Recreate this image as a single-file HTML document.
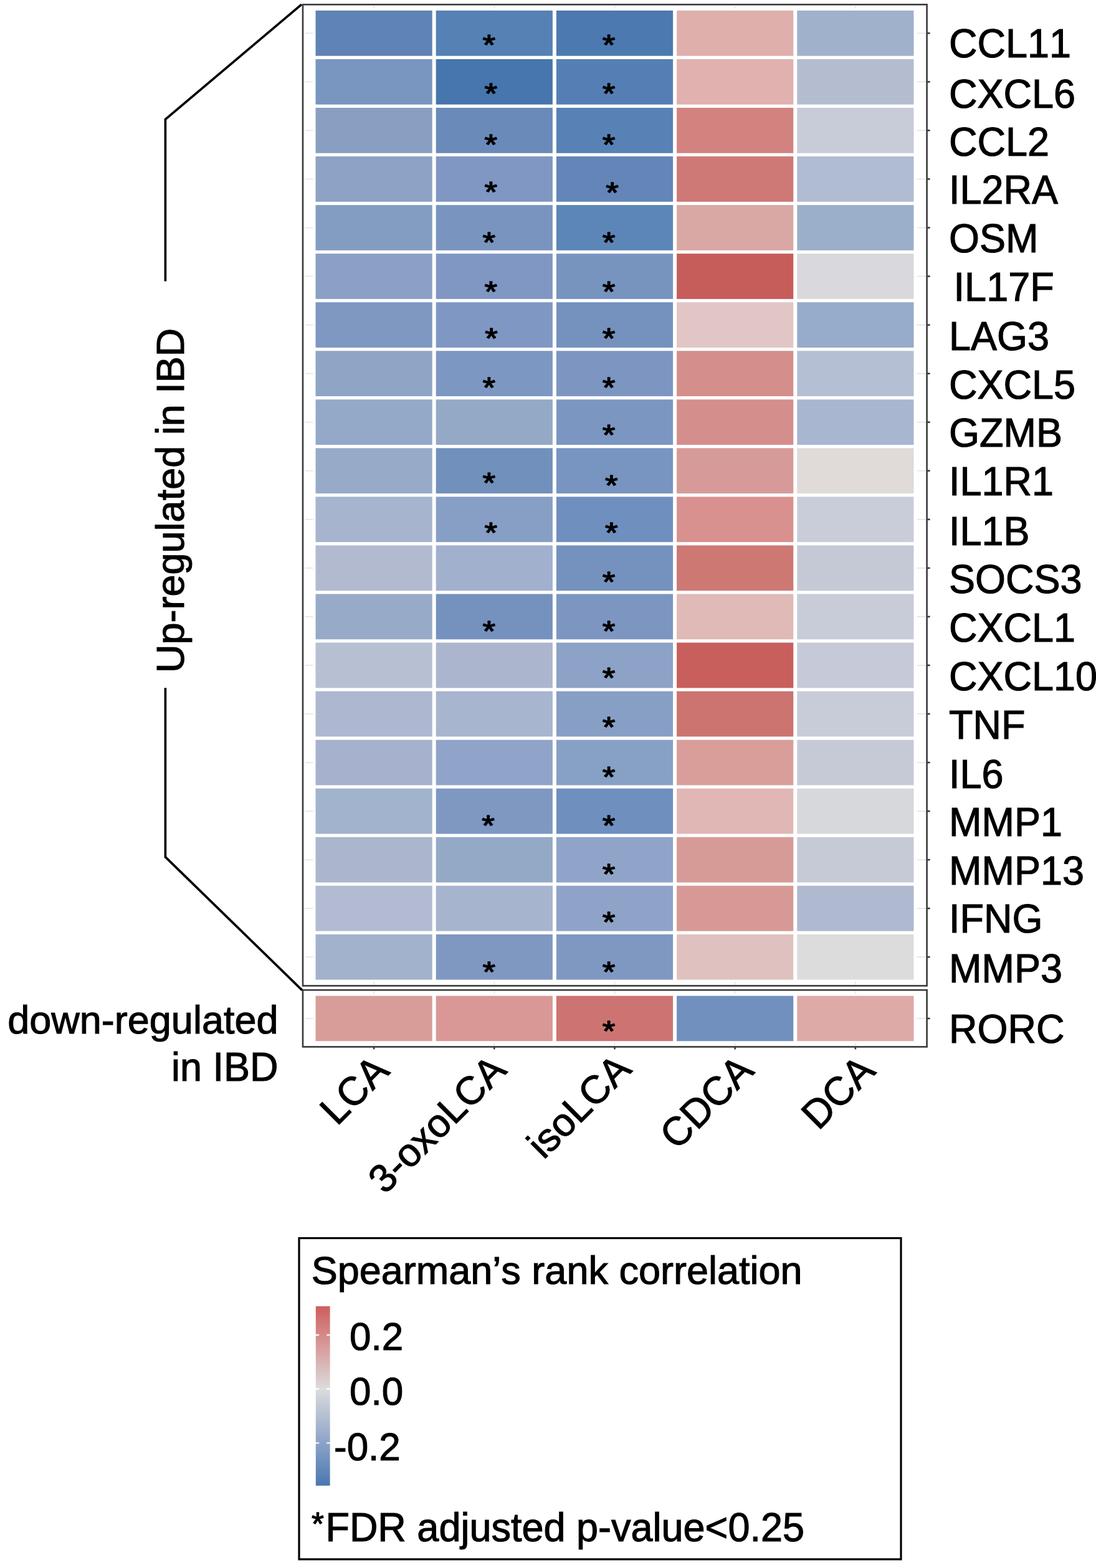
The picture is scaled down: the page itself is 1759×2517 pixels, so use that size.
<!DOCTYPE html>
<html><head><meta charset="utf-8"><title>Spearman heatmap</title>
<style>html,body{margin:0;padding:0;background:#fff;} svg{display:block;} text{font-family:'Liberation Sans', Arial, Helvetica, sans-serif;fill:#000;stroke:#000;stroke-width:1.1px;font-kerning:none;font-feature-settings:"kern" 0;}</style>
</head><body>
<svg width="1759" height="2517" viewBox="0 0 1759 2517">
<rect x="0" y="0" width="1759" height="2517" fill="#fff"/>
<g stroke="#e4e4e4" stroke-width="1.6"><line x1="489.5" y1="53.30" x2="502.5" y2="53.30"/><line x1="1471.5" y1="53.30" x2="1485.5" y2="53.30"/><line x1="489.5" y1="131.35" x2="502.5" y2="131.35"/><line x1="1471.5" y1="131.35" x2="1485.5" y2="131.35"/><line x1="489.5" y1="209.40" x2="502.5" y2="209.40"/><line x1="1471.5" y1="209.40" x2="1485.5" y2="209.40"/><line x1="489.5" y1="287.45" x2="502.5" y2="287.45"/><line x1="1471.5" y1="287.45" x2="1485.5" y2="287.45"/><line x1="489.5" y1="365.50" x2="502.5" y2="365.50"/><line x1="1471.5" y1="365.50" x2="1485.5" y2="365.50"/><line x1="489.5" y1="443.55" x2="502.5" y2="443.55"/><line x1="1471.5" y1="443.55" x2="1485.5" y2="443.55"/><line x1="489.5" y1="521.60" x2="502.5" y2="521.60"/><line x1="1471.5" y1="521.60" x2="1485.5" y2="521.60"/><line x1="489.5" y1="599.65" x2="502.5" y2="599.65"/><line x1="1471.5" y1="599.65" x2="1485.5" y2="599.65"/><line x1="489.5" y1="677.70" x2="502.5" y2="677.70"/><line x1="1471.5" y1="677.70" x2="1485.5" y2="677.70"/><line x1="489.5" y1="755.75" x2="502.5" y2="755.75"/><line x1="1471.5" y1="755.75" x2="1485.5" y2="755.75"/><line x1="489.5" y1="833.80" x2="502.5" y2="833.80"/><line x1="1471.5" y1="833.80" x2="1485.5" y2="833.80"/><line x1="489.5" y1="911.85" x2="502.5" y2="911.85"/><line x1="1471.5" y1="911.85" x2="1485.5" y2="911.85"/><line x1="489.5" y1="989.90" x2="502.5" y2="989.90"/><line x1="1471.5" y1="989.90" x2="1485.5" y2="989.90"/><line x1="489.5" y1="1067.95" x2="502.5" y2="1067.95"/><line x1="1471.5" y1="1067.95" x2="1485.5" y2="1067.95"/><line x1="489.5" y1="1146.00" x2="502.5" y2="1146.00"/><line x1="1471.5" y1="1146.00" x2="1485.5" y2="1146.00"/><line x1="489.5" y1="1224.05" x2="502.5" y2="1224.05"/><line x1="1471.5" y1="1224.05" x2="1485.5" y2="1224.05"/><line x1="489.5" y1="1302.10" x2="502.5" y2="1302.10"/><line x1="1471.5" y1="1302.10" x2="1485.5" y2="1302.10"/><line x1="489.5" y1="1380.15" x2="502.5" y2="1380.15"/><line x1="1471.5" y1="1380.15" x2="1485.5" y2="1380.15"/><line x1="489.5" y1="1458.20" x2="502.5" y2="1458.20"/><line x1="1471.5" y1="1458.20" x2="1485.5" y2="1458.20"/><line x1="489.5" y1="1536.25" x2="502.5" y2="1536.25"/><line x1="1471.5" y1="1536.25" x2="1485.5" y2="1536.25"/><line x1="600.10" y1="9.5" x2="600.10" y2="13.5"/><line x1="600.10" y1="1575.5" x2="600.10" y2="1580.5"/><line x1="600.10" y1="1591.5" x2="600.10" y2="1595.5"/><line x1="600.10" y1="1674.5" x2="600.10" y2="1678.5"/><line x1="793.30" y1="9.5" x2="793.30" y2="13.5"/><line x1="793.30" y1="1575.5" x2="793.30" y2="1580.5"/><line x1="793.30" y1="1591.5" x2="793.30" y2="1595.5"/><line x1="793.30" y1="1674.5" x2="793.30" y2="1678.5"/><line x1="986.50" y1="9.5" x2="986.50" y2="13.5"/><line x1="986.50" y1="1575.5" x2="986.50" y2="1580.5"/><line x1="986.50" y1="1591.5" x2="986.50" y2="1595.5"/><line x1="986.50" y1="1674.5" x2="986.50" y2="1678.5"/><line x1="1179.70" y1="9.5" x2="1179.70" y2="13.5"/><line x1="1179.70" y1="1575.5" x2="1179.70" y2="1580.5"/><line x1="1179.70" y1="1591.5" x2="1179.70" y2="1595.5"/><line x1="1179.70" y1="1674.5" x2="1179.70" y2="1678.5"/><line x1="1372.90" y1="9.5" x2="1372.90" y2="13.5"/><line x1="1372.90" y1="1575.5" x2="1372.90" y2="1580.5"/><line x1="1372.90" y1="1591.5" x2="1372.90" y2="1595.5"/><line x1="1372.90" y1="1674.5" x2="1372.90" y2="1678.5"/><line x1="489.5" y1="1634.90" x2="502.5" y2="1634.90"/><line x1="1471.5" y1="1634.90" x2="1485.5" y2="1634.90"/></g>
<rect x="503.50" y="13.90" width="966.00" height="1561.75" fill="#fff"/>
<rect x="503.50" y="1595.60" width="966.00" height="78.60" fill="#fff"/>
<g><rect x="506.50" y="16.90" width="187.2" height="72.8" fill="#6083B5"/><rect x="699.70" y="16.90" width="187.2" height="72.8" fill="#5581B5"/><rect x="892.90" y="16.90" width="187.2" height="72.8" fill="#4C79AF"/><rect x="1086.10" y="16.90" width="187.2" height="72.8" fill="#DFAFAC"/><rect x="1279.30" y="16.90" width="187.2" height="72.8" fill="#A0B1CC"/><rect x="506.50" y="94.95" width="187.2" height="72.8" fill="#7896BF"/><rect x="699.70" y="94.95" width="187.2" height="72.8" fill="#4775AD"/><rect x="892.90" y="94.95" width="187.2" height="72.8" fill="#557FB4"/><rect x="1086.10" y="94.95" width="187.2" height="72.8" fill="#E0B1AE"/><rect x="1279.30" y="94.95" width="187.2" height="72.8" fill="#B4BDD0"/><rect x="506.50" y="173.00" width="187.2" height="72.8" fill="#899FC2"/><rect x="699.70" y="173.00" width="187.2" height="72.8" fill="#6A8ABA"/><rect x="892.90" y="173.00" width="187.2" height="72.8" fill="#5882B6"/><rect x="1086.10" y="173.00" width="187.2" height="72.8" fill="#D3837F"/><rect x="1279.30" y="173.00" width="187.2" height="72.8" fill="#C8CBD8"/><rect x="506.50" y="251.05" width="187.2" height="72.8" fill="#8DA2C5"/><rect x="699.70" y="251.05" width="187.2" height="72.8" fill="#7F97C2"/><rect x="892.90" y="251.05" width="187.2" height="72.8" fill="#6485B8"/><rect x="1086.10" y="251.05" width="187.2" height="72.8" fill="#CE7975"/><rect x="1279.30" y="251.05" width="187.2" height="72.8" fill="#B0BCD2"/><rect x="506.50" y="329.10" width="187.2" height="72.8" fill="#839DC2"/><rect x="699.70" y="329.10" width="187.2" height="72.8" fill="#7995BF"/><rect x="892.90" y="329.10" width="187.2" height="72.8" fill="#5D86B8"/><rect x="1086.10" y="329.10" width="187.2" height="72.8" fill="#D9A8A4"/><rect x="1279.30" y="329.10" width="187.2" height="72.8" fill="#9CAFCA"/><rect x="506.50" y="407.15" width="187.2" height="72.8" fill="#8AA0C4"/><rect x="699.70" y="407.15" width="187.2" height="72.8" fill="#7F97C2"/><rect x="892.90" y="407.15" width="187.2" height="72.8" fill="#7794BF"/><rect x="1086.10" y="407.15" width="187.2" height="72.8" fill="#C65D5B"/><rect x="1279.30" y="407.15" width="187.2" height="72.8" fill="#D9D9DD"/><rect x="506.50" y="485.20" width="187.2" height="72.8" fill="#7E98C2"/><rect x="699.70" y="485.20" width="187.2" height="72.8" fill="#7F98C3"/><rect x="892.90" y="485.20" width="187.2" height="72.8" fill="#7592BF"/><rect x="1086.10" y="485.20" width="187.2" height="72.8" fill="#E2C5C5"/><rect x="1279.30" y="485.20" width="187.2" height="72.8" fill="#97ABCA"/><rect x="506.50" y="563.25" width="187.2" height="72.8" fill="#8EA5C6"/><rect x="699.70" y="563.25" width="187.2" height="72.8" fill="#7D97C3"/><rect x="892.90" y="563.25" width="187.2" height="72.8" fill="#7C96C1"/><rect x="1086.10" y="563.25" width="187.2" height="72.8" fill="#D48F8B"/><rect x="1279.30" y="563.25" width="187.2" height="72.8" fill="#B5BFD3"/><rect x="506.50" y="641.30" width="187.2" height="72.8" fill="#93A9C7"/><rect x="699.70" y="641.30" width="187.2" height="72.8" fill="#94A9C6"/><rect x="892.90" y="641.30" width="187.2" height="72.8" fill="#7B96C1"/><rect x="1086.10" y="641.30" width="187.2" height="72.8" fill="#D48E8C"/><rect x="1279.30" y="641.30" width="187.2" height="72.8" fill="#A8B6D0"/><rect x="506.50" y="719.35" width="187.2" height="72.8" fill="#97ABC8"/><rect x="699.70" y="719.35" width="187.2" height="72.8" fill="#7290BC"/><rect x="892.90" y="719.35" width="187.2" height="72.8" fill="#7894C0"/><rect x="1086.10" y="719.35" width="187.2" height="72.8" fill="#D69B98"/><rect x="1279.30" y="719.35" width="187.2" height="72.8" fill="#E0DAD9"/><rect x="506.50" y="797.40" width="187.2" height="72.8" fill="#A7B4CE"/><rect x="699.70" y="797.40" width="187.2" height="72.8" fill="#879FC5"/><rect x="892.90" y="797.40" width="187.2" height="72.8" fill="#6F8FBE"/><rect x="1086.10" y="797.40" width="187.2" height="72.8" fill="#D8918E"/><rect x="1279.30" y="797.40" width="187.2" height="72.8" fill="#C9CDD9"/><rect x="506.50" y="875.45" width="187.2" height="72.8" fill="#B2BAD0"/><rect x="699.70" y="875.45" width="187.2" height="72.8" fill="#A1B0CC"/><rect x="892.90" y="875.45" width="187.2" height="72.8" fill="#7592BF"/><rect x="1086.10" y="875.45" width="187.2" height="72.8" fill="#CE7874"/><rect x="1279.30" y="875.45" width="187.2" height="72.8" fill="#C4C9D5"/><rect x="506.50" y="953.50" width="187.2" height="72.8" fill="#97ABC9"/><rect x="699.70" y="953.50" width="187.2" height="72.8" fill="#7592BE"/><rect x="892.90" y="953.50" width="187.2" height="72.8" fill="#7C96C1"/><rect x="1086.10" y="953.50" width="187.2" height="72.8" fill="#DFBAB7"/><rect x="1279.30" y="953.50" width="187.2" height="72.8" fill="#C8CCD8"/><rect x="506.50" y="1031.55" width="187.2" height="72.8" fill="#B7BFD3"/><rect x="699.70" y="1031.55" width="187.2" height="72.8" fill="#ABB5CE"/><rect x="892.90" y="1031.55" width="187.2" height="72.8" fill="#8CA2C6"/><rect x="1086.10" y="1031.55" width="187.2" height="72.8" fill="#C85F5D"/><rect x="1279.30" y="1031.55" width="187.2" height="72.8" fill="#C6CAD8"/><rect x="506.50" y="1109.60" width="187.2" height="72.8" fill="#AEB7D0"/><rect x="699.70" y="1109.60" width="187.2" height="72.8" fill="#A7B5CF"/><rect x="892.90" y="1109.60" width="187.2" height="72.8" fill="#889FC5"/><rect x="1086.10" y="1109.60" width="187.2" height="72.8" fill="#CC7470"/><rect x="1279.30" y="1109.60" width="187.2" height="72.8" fill="#C8CCD8"/><rect x="506.50" y="1187.65" width="187.2" height="72.8" fill="#A6B2CD"/><rect x="699.70" y="1187.65" width="187.2" height="72.8" fill="#8FA4C8"/><rect x="892.90" y="1187.65" width="187.2" height="72.8" fill="#87A0C5"/><rect x="1086.10" y="1187.65" width="187.2" height="72.8" fill="#D99E9A"/><rect x="1279.30" y="1187.65" width="187.2" height="72.8" fill="#C6CAD7"/><rect x="506.50" y="1265.70" width="187.2" height="72.8" fill="#A2B3CE"/><rect x="699.70" y="1265.70" width="187.2" height="72.8" fill="#7E98C2"/><rect x="892.90" y="1265.70" width="187.2" height="72.8" fill="#6F8FBE"/><rect x="1086.10" y="1265.70" width="187.2" height="72.8" fill="#E1B7B5"/><rect x="1279.30" y="1265.70" width="187.2" height="72.8" fill="#D7D8DC"/><rect x="506.50" y="1343.75" width="187.2" height="72.8" fill="#ABB6CE"/><rect x="699.70" y="1343.75" width="187.2" height="72.8" fill="#93A9C6"/><rect x="892.90" y="1343.75" width="187.2" height="72.8" fill="#8FA4C8"/><rect x="1086.10" y="1343.75" width="187.2" height="72.8" fill="#D69B97"/><rect x="1279.30" y="1343.75" width="187.2" height="72.8" fill="#C6CAD7"/><rect x="506.50" y="1421.80" width="187.2" height="72.8" fill="#B2BBD2"/><rect x="699.70" y="1421.80" width="187.2" height="72.8" fill="#A6B4CE"/><rect x="892.90" y="1421.80" width="187.2" height="72.8" fill="#8EA3C7"/><rect x="1086.10" y="1421.80" width="187.2" height="72.8" fill="#D79995"/><rect x="1279.30" y="1421.80" width="187.2" height="72.8" fill="#AFB9CF"/><rect x="506.50" y="1499.85" width="187.2" height="72.8" fill="#A2B2CD"/><rect x="699.70" y="1499.85" width="187.2" height="72.8" fill="#7F98C2"/><rect x="892.90" y="1499.85" width="187.2" height="72.8" fill="#7E98C2"/><rect x="1086.10" y="1499.85" width="187.2" height="72.8" fill="#DFC2BF"/><rect x="1279.30" y="1499.85" width="187.2" height="72.8" fill="#DCDCDC"/><rect x="506.50" y="1598.60" width="187.2" height="72.6" fill="#D99D99"/><rect x="699.70" y="1598.60" width="187.2" height="72.6" fill="#D99795"/><rect x="892.90" y="1598.60" width="187.2" height="72.6" fill="#CD7472"/><rect x="1086.10" y="1598.60" width="187.2" height="72.6" fill="#7190BE"/><rect x="1279.30" y="1598.60" width="187.2" height="72.6" fill="#DDAAA8"/></g>
<g fill="none" stroke="#3a3a3a" stroke-width="2.6"><rect x="486.0" y="7.3" width="1001.60" height="1575.10"/><rect x="486.0" y="1589.2" width="1001.60" height="91.20"/></g>
<g stroke="#3a3a3a" stroke-width="2.6"><line x1="1487.6" y1="53.30" x2="1492.6" y2="53.30"/><line x1="1487.6" y1="131.35" x2="1492.6" y2="131.35"/><line x1="1487.6" y1="209.40" x2="1492.6" y2="209.40"/><line x1="1487.6" y1="287.45" x2="1492.6" y2="287.45"/><line x1="1487.6" y1="365.50" x2="1492.6" y2="365.50"/><line x1="1487.6" y1="443.55" x2="1492.6" y2="443.55"/><line x1="1487.6" y1="521.60" x2="1492.6" y2="521.60"/><line x1="1487.6" y1="599.65" x2="1492.6" y2="599.65"/><line x1="1487.6" y1="677.70" x2="1492.6" y2="677.70"/><line x1="1487.6" y1="755.75" x2="1492.6" y2="755.75"/><line x1="1487.6" y1="833.80" x2="1492.6" y2="833.80"/><line x1="1487.6" y1="911.85" x2="1492.6" y2="911.85"/><line x1="1487.6" y1="989.90" x2="1492.6" y2="989.90"/><line x1="1487.6" y1="1067.95" x2="1492.6" y2="1067.95"/><line x1="1487.6" y1="1146.00" x2="1492.6" y2="1146.00"/><line x1="1487.6" y1="1224.05" x2="1492.6" y2="1224.05"/><line x1="1487.6" y1="1302.10" x2="1492.6" y2="1302.10"/><line x1="1487.6" y1="1380.15" x2="1492.6" y2="1380.15"/><line x1="1487.6" y1="1458.20" x2="1492.6" y2="1458.20"/><line x1="1487.6" y1="1536.25" x2="1492.6" y2="1536.25"/><line x1="1487.6" y1="1634.90" x2="1492.6" y2="1634.90"/><line x1="600.10" y1="1680.4" x2="600.10" y2="1684.4"/><line x1="793.30" y1="1680.4" x2="793.30" y2="1684.4"/><line x1="986.50" y1="1680.4" x2="986.50" y2="1684.4"/><line x1="1179.70" y1="1680.4" x2="1179.70" y2="1684.4"/><line x1="1372.90" y1="1680.4" x2="1372.90" y2="1684.4"/></g>
<g><text transform="translate(784.80,88.39) scale(1.13,1)" font-size="47.0" text-anchor="middle" style="stroke-width:1.4px;stroke-linejoin:round">*</text><text transform="translate(977.10,88.39) scale(1.13,1)" font-size="47.0" text-anchor="middle" style="stroke-width:1.4px;stroke-linejoin:round">*</text><text transform="translate(787.90,165.99) scale(1.13,1)" font-size="47.0" text-anchor="middle" style="stroke-width:1.4px;stroke-linejoin:round">*</text><text transform="translate(977.10,165.99) scale(1.13,1)" font-size="47.0" text-anchor="middle" style="stroke-width:1.4px;stroke-linejoin:round">*</text><text transform="translate(787.90,248.29) scale(1.13,1)" font-size="47.0" text-anchor="middle" style="stroke-width:1.4px;stroke-linejoin:round">*</text><text transform="translate(977.10,248.29) scale(1.13,1)" font-size="47.0" text-anchor="middle" style="stroke-width:1.4px;stroke-linejoin:round">*</text><text transform="translate(787.90,324.29) scale(1.13,1)" font-size="47.0" text-anchor="middle" style="stroke-width:1.4px;stroke-linejoin:round">*</text><text transform="translate(982.60,325.09) scale(1.13,1)" font-size="47.0" text-anchor="middle" style="stroke-width:1.4px;stroke-linejoin:round">*</text><text transform="translate(784.80,405.09) scale(1.13,1)" font-size="47.0" text-anchor="middle" style="stroke-width:1.4px;stroke-linejoin:round">*</text><text transform="translate(977.10,405.09) scale(1.13,1)" font-size="47.0" text-anchor="middle" style="stroke-width:1.4px;stroke-linejoin:round">*</text><text transform="translate(787.90,483.69) scale(1.13,1)" font-size="47.0" text-anchor="middle" style="stroke-width:1.4px;stroke-linejoin:round">*</text><text transform="translate(977.10,483.69) scale(1.13,1)" font-size="47.0" text-anchor="middle" style="stroke-width:1.4px;stroke-linejoin:round">*</text><text transform="translate(788.70,558.89) scale(1.13,1)" font-size="47.0" text-anchor="middle" style="stroke-width:1.4px;stroke-linejoin:round">*</text><text transform="translate(977.10,558.89) scale(1.13,1)" font-size="47.0" text-anchor="middle" style="stroke-width:1.4px;stroke-linejoin:round">*</text><text transform="translate(784.80,638.09) scale(1.13,1)" font-size="47.0" text-anchor="middle" style="stroke-width:1.4px;stroke-linejoin:round">*</text><text transform="translate(977.10,638.09) scale(1.13,1)" font-size="47.0" text-anchor="middle" style="stroke-width:1.4px;stroke-linejoin:round">*</text><text transform="translate(977.10,714.09) scale(1.13,1)" font-size="47.0" text-anchor="middle" style="stroke-width:1.4px;stroke-linejoin:round">*</text><text transform="translate(784.80,791.09) scale(1.13,1)" font-size="47.0" text-anchor="middle" style="stroke-width:1.4px;stroke-linejoin:round">*</text><text transform="translate(981.40,795.09) scale(1.13,1)" font-size="47.0" text-anchor="middle" style="stroke-width:1.4px;stroke-linejoin:round">*</text><text transform="translate(787.90,871.09) scale(1.13,1)" font-size="47.0" text-anchor="middle" style="stroke-width:1.4px;stroke-linejoin:round">*</text><text transform="translate(981.40,871.09) scale(1.13,1)" font-size="47.0" text-anchor="middle" style="stroke-width:1.4px;stroke-linejoin:round">*</text><text transform="translate(977.10,950.19) scale(1.13,1)" font-size="47.0" text-anchor="middle" style="stroke-width:1.4px;stroke-linejoin:round">*</text><text transform="translate(784.80,1028.59) scale(1.13,1)" font-size="47.0" text-anchor="middle" style="stroke-width:1.4px;stroke-linejoin:round">*</text><text transform="translate(977.10,1028.59) scale(1.13,1)" font-size="47.0" text-anchor="middle" style="stroke-width:1.4px;stroke-linejoin:round">*</text><text transform="translate(977.10,1104.09) scale(1.13,1)" font-size="47.0" text-anchor="middle" style="stroke-width:1.4px;stroke-linejoin:round">*</text><text transform="translate(977.10,1183.19) scale(1.13,1)" font-size="47.0" text-anchor="middle" style="stroke-width:1.4px;stroke-linejoin:round">*</text><text transform="translate(977.10,1263.19) scale(1.13,1)" font-size="47.0" text-anchor="middle" style="stroke-width:1.4px;stroke-linejoin:round">*</text><text transform="translate(783.50,1340.79) scale(1.13,1)" font-size="47.0" text-anchor="middle" style="stroke-width:1.4px;stroke-linejoin:round">*</text><text transform="translate(977.10,1340.79) scale(1.13,1)" font-size="47.0" text-anchor="middle" style="stroke-width:1.4px;stroke-linejoin:round">*</text><text transform="translate(977.10,1418.99) scale(1.13,1)" font-size="47.0" text-anchor="middle" style="stroke-width:1.4px;stroke-linejoin:round">*</text><text transform="translate(977.10,1495.79) scale(1.13,1)" font-size="47.0" text-anchor="middle" style="stroke-width:1.4px;stroke-linejoin:round">*</text><text transform="translate(784.80,1575.69) scale(1.13,1)" font-size="47.0" text-anchor="middle" style="stroke-width:1.4px;stroke-linejoin:round">*</text><text transform="translate(977.10,1575.69) scale(1.13,1)" font-size="47.0" text-anchor="middle" style="stroke-width:1.4px;stroke-linejoin:round">*</text><text transform="translate(977.10,1670.59) scale(1.13,1)" font-size="47.0" text-anchor="middle" style="stroke-width:1.4px;stroke-linejoin:round">*</text></g>
<g><text transform="translate(1523.00,92.00) scale(1,1.025)" font-size="63">CCL11</text><text transform="translate(1523.00,172.50) scale(1,1.025)" font-size="63">CXCL6</text><text transform="translate(1523.00,249.80) scale(1,1.025)" font-size="63">CCL2</text><text transform="translate(1523.00,327.30) scale(1,1.025)" font-size="63">IL2RA</text><text transform="translate(1523.00,405.00) scale(1,1.025)" font-size="63">OSM</text><text transform="translate(1530.60,482.80) scale(1,1.025)" font-size="63">IL17F</text><text transform="translate(1523.00,562.30) scale(1,1.025)" font-size="63">LAG3</text><text transform="translate(1523.00,639.80) scale(1,1.025)" font-size="63">CXCL5</text><text transform="translate(1523.00,717.20) scale(1,1.025)" font-size="63">GZMB</text><text transform="translate(1523.00,795.20) scale(1,1.025)" font-size="63">IL1R1</text><text transform="translate(1523.00,874.80) scale(1,1.025)" font-size="63">IL1B</text><text transform="translate(1523.00,952.00) scale(1,1.025)" font-size="63">SOCS3</text><text transform="translate(1523.00,1030.20) scale(1,1.025)" font-size="63">CXCL1</text><text transform="translate(1523.00,1107.60) scale(1,1.025)" font-size="63">CXCL10</text><text transform="translate(1523.00,1185.50) scale(1,1.025)" font-size="63">TNF</text><text transform="translate(1523.00,1264.80) scale(1,1.025)" font-size="63">IL6</text><text transform="translate(1523.00,1342.30) scale(1,1.025)" font-size="63">MMP1</text><text transform="translate(1523.00,1420.10) scale(1,1.025)" font-size="63">MMP13</text><text transform="translate(1523.00,1497.40) scale(1,1.025)" font-size="63">IFNG</text><text transform="translate(1523.00,1577.40) scale(1,1.025)" font-size="63">MMP3</text><text transform="translate(1523.00,1674.10) scale(1,1.025)" font-size="63">RORC</text></g>
<g><text transform="translate(627.50,1721.80) rotate(-45) scale(1,1.025)" font-size="63" text-anchor="end">LCA</text><text transform="translate(815.50,1720.50) rotate(-45)" font-size="63" text-anchor="end">3-oxoLCA</text><text transform="translate(1016.00,1719.00) rotate(-45)" font-size="63" text-anchor="end">isoLCA</text><text transform="translate(1212.50,1721.50) rotate(-45) scale(1,1.025)" font-size="63" text-anchor="end">CDCA</text><text transform="translate(1407.50,1721.80) rotate(-45) scale(1,1.025)" font-size="63" text-anchor="end">DCA</text></g>
<g fill="none" stroke="#000" stroke-width="3.7" stroke-linejoin="miter"><polyline points="484,7.2 265.4,191.6 265.4,451.6"/><polyline points="265.4,1104.2 265.4,1375.7 485,1589.6"/></g>
<text transform="translate(295.00,1080.00) rotate(-90)" font-size="63">Up-regulated in IBD</text>
<text transform="translate(446.50,1658.80)" font-size="63" text-anchor="end">down-regulated</text>
<text transform="translate(446.50,1734.70) scale(1,1.02)" font-size="63" text-anchor="end">in IBD</text>
<rect x="480" y="1987.5" width="966" height="515.5" fill="none" stroke="#000" stroke-width="3.2"/>
<text transform="translate(499.70,2060.50)" font-size="63">Spearman’s rank correlation</text>
<defs><linearGradient id="cb" x1="0" y1="0" x2="0" y2="1"><stop offset="0.0" stop-color="#CD5E5E"/><stop offset="0.162" stop-color="#D6898A"/><stop offset="0.46" stop-color="#DCDCDC"/><stop offset="0.76" stop-color="#8CA3C8"/><stop offset="1.0" stop-color="#4977AF"/></linearGradient></defs>
<rect x="506.8" y="2096.8" width="22.8" height="288" fill="url(#cb)"/>
<line x1="506.8" y1="2143.0" x2="511.2" y2="2143.0" stroke="#fff" stroke-width="2.4" stroke-linecap="round" stroke-opacity="0.9"/><line x1="525.2" y1="2143.0" x2="529.6" y2="2143.0" stroke="#fff" stroke-width="2.4" stroke-linecap="round" stroke-opacity="0.9"/>
<line x1="506.8" y1="2229.5" x2="511.2" y2="2229.5" stroke="#fff" stroke-width="2.4" stroke-linecap="round" stroke-opacity="0.9"/><line x1="525.2" y1="2229.5" x2="529.6" y2="2229.5" stroke="#fff" stroke-width="2.4" stroke-linecap="round" stroke-opacity="0.9"/>
<line x1="506.8" y1="2316.4" x2="511.2" y2="2316.4" stroke="#fff" stroke-width="2.4" stroke-linecap="round" stroke-opacity="0.9"/><line x1="525.2" y1="2316.4" x2="529.6" y2="2316.4" stroke="#fff" stroke-width="2.4" stroke-linecap="round" stroke-opacity="0.9"/>
<text transform="translate(561.00,2166.80) scale(1,1.025)" font-size="62">0.2</text>
<text transform="translate(561.00,2254.50) scale(1,1.025)" font-size="62">0.0</text>
<text transform="translate(536.00,2343.50) scale(1,1.025)" font-size="62">-0.2</text>
<text transform="translate(522.40,2473.50) scale(1,1.02)" font-size="63">FDR adjusted p-value&lt;0.25</text>
<text transform="translate(509.80,2463.54) scale(1.0,1)" font-size="51.0" text-anchor="middle" style="stroke-width:1.3px;stroke-linejoin:round">*</text>
</svg></body></html>
